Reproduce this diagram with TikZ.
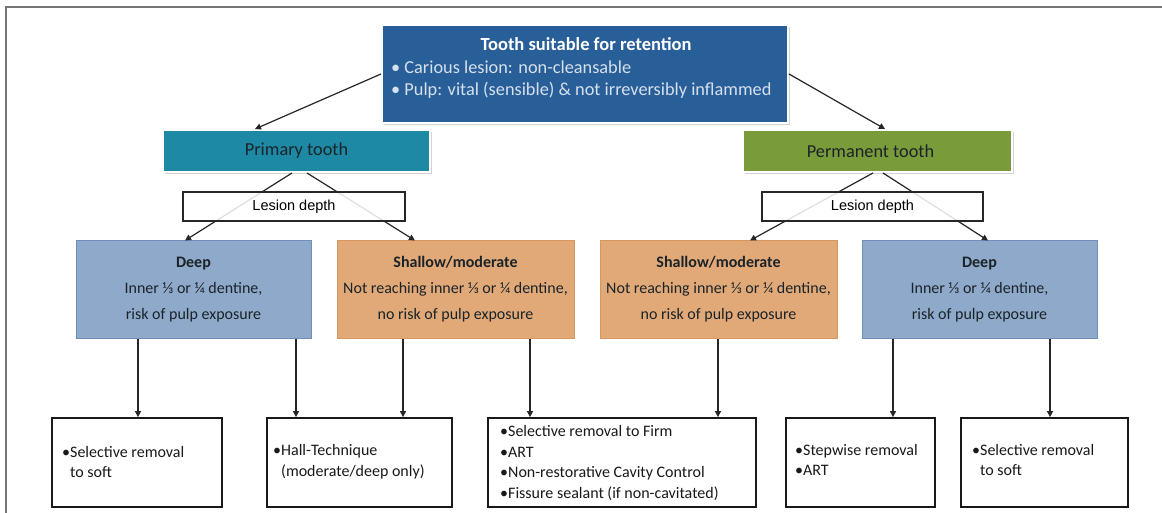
\documentclass[tikz,border=0pt]{standalone}
\usepackage{fontspec}
\setmainfont{Carlito}
\newfontfamily\arialf{Liberation Sans}
\usetikzlibrary{shadows,arrows.meta}
\definecolor{topfill}{RGB}{40,95,152}
\definecolor{toptext}{RGB}{214,224,238}
\definecolor{primfill}{RGB}{30,137,164}
\definecolor{permfill}{RGB}{122,155,58}
\definecolor{deepfill}{RGB}{143,169,202}
\definecolor{deepline}{RGB}{112,142,186}
\definecolor{shalfill}{RGB}{226,169,120}
\definecolor{shalline}{RGB}{214,150,96}
\definecolor{framec}{RGB}{118,118,118}
\definecolor{darktext}{RGB}{25,35,40}
\begin{document}
\begin{tikzpicture}[x=1pt,y=-1pt,
  hdbox/.style={rectangle, inner sep=0pt, draw=white, line width=2pt,
    drop shadow={shadow xshift=1.5pt, shadow yshift=-2pt, opacity=0.35}},
  lesbox/.style={rectangle, inner sep=0pt, draw=black!85, line width=1.3pt,
    fill=white, fill opacity=0.85, text opacity=1,
    font=\arialf\fontsize{14.5}{16}\selectfont, minimum height=29pt},
  midbox/.style={rectangle, inner sep=0pt, line width=1pt, align=center,
    minimum height=97pt, text=darktext,
    font=\fontsize{16}{26}\selectfont},
  deepbox/.style={midbox, fill=deepfill, draw=deepline},
  shalbox/.style={midbox, fill=shalfill, draw=shalline},
  resbox/.style={rectangle, inner sep=0pt, draw=black!90, line width=1.8pt,
    fill=white, minimum height=89pt},
  restext/.style={anchor=west, align=left, inner sep=0pt, text=black!90,
    font=\fontsize{16}{20.7}\selectfont},
  arr/.style={draw=black!85, line width=1.2pt,
    -{Triangle[length=6pt,width=6pt]}}
]
\useasboundingbox (0,0) rectangle (1162,513);
\fill[white] (0,0) rectangle (1162,513);
\draw[framec, line width=2.5pt] (6,513) -- (6,7) -- (1162,7);

% top box
\node[hdbox, fill=topfill, minimum width=406pt, minimum height=98pt] (top) at (585,74) {};
\node[inner sep=0pt, text=white, font=\bfseries\fontsize{18.5}{20}\selectfont] (topT) at (586,44) {Tooth suitable for retention};
\node[inner sep=0pt, anchor=west, align=left, text=toptext, font=\fontsize{18.3}{22}\selectfont] (topB) at (391,80) {• Carious lesion: non-cleansable\\• Pulp: vital (sensible) \& not irreversibly inflammed};

% tooth type boxes
\node[hdbox, fill=primfill, minimum width=267pt, minimum height=42pt, text=darktext, font=\fontsize{18.3}{20}\selectfont] (prim) at (296.5,151) {Primary tooth};
\node[hdbox, fill=permfill, minimum width=269pt, minimum height=42pt, text=darktext, font=\fontsize{18.3}{20}\selectfont] (perm) at (877.5,151) {\hspace*{-14pt}Permanent tooth};

% arrows from top box
\draw[arr] (top.west) -- (prim.north -| 255,0);
\draw[arr] (top.east) -- (perm.north -| 885,0);

% middle boxes
\node[deepbox, minimum width=235pt] (dL) at (193.5,289.5) {\textbf{Deep}\\Inner ⅓  or ¼ dentine,\\risk of pulp exposure};
\node[shalbox, minimum width=237pt] (sL) at (455.5,289.5) {\textbf{Shallow/moderate}\\Not reaching inner ⅓  or ¼ dentine,\\no risk of pulp exposure};
\node[shalbox, minimum width=237pt] (sR) at (718.5,289.5) {\textbf{Shallow/moderate}\\Not reaching inner ⅓  or ¼ dentine,\\no risk of pulp exposure};
\node[deepbox, minimum width=235pt] (dR) at (979.5,289.5) {\textbf{Deep}\\Inner ⅓  or ¼ dentine,\\risk of pulp exposure};

% arrows from tooth type to lesion classes
\draw[arr] (prim.south -| 292,0) -- (dL.north -| 185,0);
\draw[arr] (prim.south -| 307,0) -- (sL.north -| 415,0);
\draw[arr] (perm.south -| 873,0) -- (sR.north -| 750,0);
\draw[arr] (perm.south -| 883,0) -- (dR.north -| 988,0);

% lesion depth boxes (over the lines)
\node[lesbox, minimum width=222pt] (lesL) at (294,206.5) {Lesion depth};
\node[lesbox, minimum width=221pt] (lesR) at (872.5,206.5) {Lesion depth};

% result boxes
\node[resbox, minimum width=170pt] (b1) at (137,462.5) {};
\node[resbox, minimum width=185pt] (b2) at (359.5,462.5) {};
\node[resbox, minimum width=268pt] (b3) at (622,462.5) {};
\node[resbox, minimum width=149pt] (b4) at (860.5,462.5) {};
\node[resbox, minimum width=167pt] (b5) at (1044.5,462.5) {};

\node[restext] (t1) at (62,462) {•Selective removal\\\phantom{•}to soft};
\node[restext] (t2) at (273,462) {•Hall-Technique\\\phantom{•}(moderate/deep only)};
\node[restext] (t3) at (500,463) {•Selective removal to Firm\\•ART\\•Non-restorative Cavity Control\\•Fissure sealant (if non-cavitated)};
\node[restext] (t4) at (795,460) {•Stepwise removal\\•ART};
\node[restext] (t5) at (972,460) {•Selective removal\\\phantom{•}to soft};

% vertical arrows
\draw[arr] (dL.south -| 138,0) -- (b1.north -| 138,0);
\draw[arr] (dL.south -| 296,0) -- (b2.north -| 296,0);
\draw[arr] (sL.south -| 403,0) -- (b2.north -| 403,0);
\draw[arr] (sL.south -| 530,0) -- (b3.north -| 530,0);
\draw[arr] (sR.south -| 718,0) -- (b3.north -| 718,0);
\draw[arr] (dR.south -| 893,0) -- (b4.north -| 893,0);
\draw[arr] (dR.south -| 1050,0) -- (b5.north -| 1050,0);
\end{tikzpicture}
\end{document}
